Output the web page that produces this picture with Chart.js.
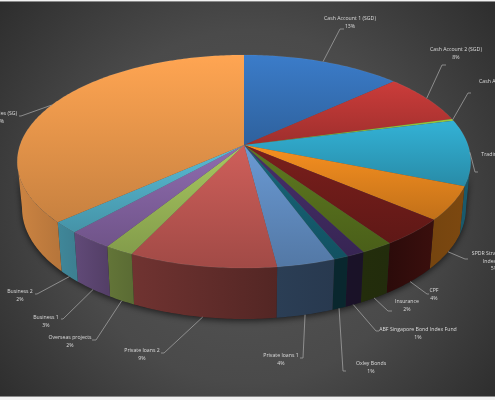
<!DOCTYPE html>
<html>
<head>
<meta charset="utf-8">
<title>Portfolio pie</title>
<script src="https://cdn.jsdelivr.net/npm/chart.js@4/dist/chart.umd.js"></script>
<style>
    html, body { margin: 0; padding: 0; background: #fff; }
    canvas { display: block; filter: blur(0.35px); }
</style>
</head>
<body>
<canvas id="pie" width="495" height="400"></canvas>
<script>
const sliceNames = [
    'Cash Account 1 (SGD)', 'Cash Account 2 (SGD)', 'Cash Account 3 (SGD)', 'Trading Account',
    'SPDR Straits Times|Index ETF', 'CPF', 'Insurance', 'ABF Singapore Bond Index Fund', 'Oxley Bonds',
    'Private loans 1', 'Private loans 2', 'Overseas projects', 'Business 1', 'Business 2', 'Properties (SG)'
];
const sliceValues = [13.2, 7.6, 0.3, 10, 5.1, 4.2, 2, 1.1, 0.9, 3.6, 9.1, 1.8, 2.8, 1.7, 36.6];
const percentLabels = ['13%', '8%', '0%', '10%', '5%', '4%', '2%', '1%', '1%', '4%', '9%', '2%', '3%', '2%', '37%'];
const sliceColors = [
    '#3b7cc9', '#cb3c3a', '#9ac83e', '#33b2d6', '#f79020', '#7a1f1c', '#5f7a20', '#47306b', '#17687c',
    '#6a9ad4', '#cf5f5a', '#a8c860', '#8f6cb0', '#59bcd6', '#ffa552'
];

// label centre, then elbow and end of the leader line
const labelSpots = [
    [350, 19, 340, 29, 344, 29], [456, 50, 442, 65, 446, 65], [505, 82, 468, 93, 471, 93],
    [501, 155, 475, 172, 478, 172], [494.5, 254, 465, 259, 468, 259], [434, 291, 427, 294, 429, 294],
    [407, 302, 388, 311, 392, 311], [418, 330, 376, 331, 379, 331], [371, 364, 343, 371, 346, 371],
    [281, 356, 303, 358, 300, 358], [142, 351, 164, 353, 161, 353], [70, 338, 96, 340, 92, 340],
    [46, 318, 63, 319, 61, 319], [20, 292, 37, 294, 35, 294], [-1, 114, 21, 116, 19, 116]
];

// tilted disc: the apex sits above the ellipse centre because of the perspective
const apexX = 244, apexY = 145, discW = 224, discH = 104, persp = 0.155;

function rim(theta) {
    const u = Math.sin(theta), v = Math.cos(theta), w = 1 + persp * v;
    return { x: apexX + discW * u / w, y: apexY - discH * v / w };
}

function floorOf(p) {
    return { x: p.x - 0.021 * (p.x - apexX), y: p.y + 46 + (p.y - apexY) * 0.04 };
}

function shade(hex, f) {
    const n = parseInt(hex.slice(1), 16);
    const c = [n >> 16, (n >> 8) & 255, n & 255].map(x => Math.round(x * f));
    return `rgb(${c[0]},${c[1]},${c[2]})`;
}

function wallShade(x) {
    const stops = [[17, 0.8], [75, 0.68], [120, 0.55], [220, 0.46], [300, 0.38], [400, 0.36], [440, 0.5], [470, 0.5]];
    for (let i = 1; i < stops.length; i++) {
        if (x <= stops[i][0]) {
            const t = (x - stops[i - 1][0]) / (stops[i][0] - stops[i - 1][0]);
            return stops[i - 1][1] + t * (stops[i][1] - stops[i - 1][1]);
        }
    }
    return 0.5;
}

function arcPoints(from, to) {
    const pts = [];
    const steps = Math.max(2, Math.ceil((to - from) / 0.015));
    for (let i = 0; i <= steps; i++) {
        pts.push(rim(from + (to - from) * i / steps));
    }
    return pts;
}

function tracePath(ctx, pts) {
    ctx.beginPath();
    pts.forEach((p, i) => i ? ctx.lineTo(p.x, p.y) : ctx.moveTo(p.x, p.y));
    ctx.closePath();
}

class TiltedPieController extends Chart.PieController {
    draw() {
        const ctx = this.chart.ctx;
        const arcs = this.getMeta().data;
        const turn = a => a + Math.PI / 2;
        const wallFrom = Math.acos(-persp), wallTo = 2 * Math.PI - wallFrom;

        // soft shadow under the whole wall
        const outline = arcPoints(wallFrom, wallTo);
        ctx.save();
        ctx.shadowColor = 'rgba(0,0,0,0.6)';
        ctx.shadowBlur = 6;
        ctx.shadowOffsetY = 2;
        ctx.fillStyle = '#222';
        tracePath(ctx, outline.concat(outline.map(floorOf).reverse()));
        ctx.fill();
        ctx.restore();

        arcs.forEach(arc => {
            const from = Math.max(turn(arc.startAngle), wallFrom);
            const to = Math.min(turn(arc.endAngle), wallTo);
            if (to <= from) return;
            const color = arc.options.backgroundColor;
            const pts = arcPoints(from, to);
            const bottom = pts.map(floorOf).reverse();
            const x0 = pts[0].x, x1 = pts[pts.length - 1].x;
            const grad = ctx.createLinearGradient(x0, 0, x1 === x0 ? x0 + 1 : x1, 0);
            grad.addColorStop(0, shade(color, wallShade(x0)));
            grad.addColorStop(1, shade(color, wallShade(x1)));
            ctx.fillStyle = grad;
            tracePath(ctx, pts.concat(bottom));
            ctx.fill();
        });

        arcs.forEach(arc => {
            const color = arc.options.backgroundColor;
            const pts = arcPoints(turn(arc.startAngle), turn(arc.endAngle));
            pts.unshift({ x: apexX, y: apexY });
            const ys = pts.map(p => p.y);
            const grad = ctx.createLinearGradient(0, Math.min(...ys), 0, Math.max(...ys));
            grad.addColorStop(0, shade(color, 1));
            grad.addColorStop(1, shade(color, 0.78));
            ctx.fillStyle = grad;
            tracePath(ctx, pts);
            ctx.fill();
        });

        ctx.save();
        ctx.strokeStyle = 'rgba(255,255,255,0.08)';
        ctx.lineWidth = 0.8;
        tracePath(ctx, arcPoints(0, 2 * Math.PI));
        ctx.stroke();
        ctx.restore();
    }
}
TiltedPieController.id = 'tiltedPie';
TiltedPieController.defaults = Chart.PieController.defaults;
TiltedPieController.overrides = Chart.PieController.overrides;
Chart.register(TiltedPieController);

const backdrop = {
    id: 'backdrop',
    beforeDraw(chart) {
        const ctx = chart.ctx;
        const bg = ctx.createRadialGradient(247, 215, 0, 247, 200, 320);
        bg.addColorStop(0, '#565656');
        bg.addColorStop(0.55, '#4a4a4a');
        bg.addColorStop(1, '#2d2d2d');
        ctx.fillStyle = bg;
        ctx.fillRect(0, 0, 495, 400);
        ctx.fillStyle = '#f2f2f2';
        ctx.fillRect(0, 0, 495, 1);
        ctx.fillRect(0, 397, 495, 3);
        ctx.fillStyle = '#8a8a8a';
        ctx.fillRect(0, 1, 495, 1);
        ctx.fillRect(0, 396, 495, 1);
    }
};

const sliceLabels = {
    id: 'sliceLabels',
    afterDatasetsDraw(chart) {
        const ctx = chart.ctx;
        const arcs = chart.getDatasetMeta(0).data;
        ctx.save();
        ctx.font = '5.2px "Open Sans"';
        ctx.textAlign = 'center';
        ctx.textBaseline = 'middle';
        arcs.forEach((arc, i) => {
            const spot = labelSpots[i];
            const mid = (arc.startAngle + arc.endAngle) / 2 + Math.PI / 2;
            const start = Math.cos(mid) < -0.2 ? floorOf(rim(mid)) : rim(mid);
            ctx.strokeStyle = '#a0a0a0';
            ctx.lineWidth = 0.8;
            ctx.beginPath();
            ctx.moveTo(start.x, start.y);
            ctx.lineTo(spot[2], spot[3]);
            ctx.lineTo(spot[4], spot[5]);
            ctx.stroke();

            ctx.fillStyle = '#dcdcdc';
            const lines = sliceNames[i].split('|').concat(percentLabels[i]);
            lines.forEach((line, n) => ctx.fillText(line, spot[0], spot[1] + n * 7.5));
        });
        ctx.restore();
    }
};

new Chart(document.getElementById('pie'), {
    type: 'tiltedPie',
    data: {
        labels: sliceNames,
        datasets: [{ data: sliceValues, backgroundColor: sliceColors, borderWidth: 0 }]
    },
    options: {
        responsive: false,
        animation: false,
        plugins: { legend: { display: false }, tooltip: { enabled: false } }
    },
    plugins: [backdrop, sliceLabels]
});
</script>
</body>
</html>
